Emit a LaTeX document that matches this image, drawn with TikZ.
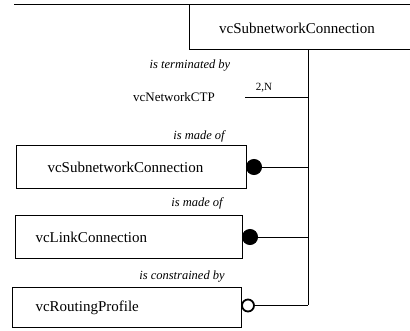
\documentclass[tikz,border=0pt]{standalone}
\usepackage{fontspec}
\setmainfont{Liberation Serif}
\begin{document}
\begin{tikzpicture}[x=1pt,y=-1pt,
  line width=1pt,
  boxtext/.style={font=\fontsize{15}{17}\selectfont},
  relbox/.style={draw, rectangle, boxtext, anchor=north west, align=left, inner ysep=0pt},
  rolelabel/.style={font=\fontsize{12.5}{14}\itshape\selectfont, inner sep=0pt},
  fulldot/.style={circle, fill=black, draw=black, inner sep=0pt, minimum size=15pt},
  opendot/.style={circle, fill=white, draw=black, line width=1.8pt, inner sep=0pt, minimum size=12pt}]
\useasboundingbox (0,0) rectangle (410,330);
% top box (extends beyond the right edge)
\node[boxtext, inner sep=0pt] (topbox) at (297,28) {vcSubnetworkConnection};
\coordinate (tl) at (14,4);
\coordinate (tr) at (410,4);
\coordinate (bl) at (189,4);
\coordinate (blb) at (189,49);
\coordinate (brb) at (410,49);
\draw (tl) -- (tr);
\draw (bl) -- (blb) -- (brb);
% trunk
\coordinate (trunktop) at (308,49);
\coordinate (trunkbot) at (308,305);
\draw (trunktop) -- (trunkbot);
% network CTP
\node[rolelabel] (lterm) at (190,66) {is terminated by};
\node[font=\fontsize{13}{15}\selectfont, inner sep=0pt] (ctp) at (174,97) {vcNetworkCTP};
\coordinate (ctpend) at (245,97);
\draw (ctpend) -- (ctpend -| trunktop);
\node[font=\fontsize{11}{13}\selectfont, inner sep=0pt] (card) at (264,88) {2,N};
% box 1
\node[rolelabel] (lmade1) at (199,136) {is made of};
\node[relbox, minimum width=230pt, minimum height=43pt, text width=168pt, inner xsep=31pt] (b1) at (16,145) {vcSubnetworkConnection};
\node[fulldot] (d1) at ([xshift=7pt]b1.east) {};
\draw (d1) -- (d1 -| trunktop);
% box 2
\node[rolelabel] (lmade2) at (197,203) {is made of};
\node[relbox, minimum width=227pt, minimum height=43pt, text width=187pt, inner xsep=20pt] (b2) at (15,215) {vcLinkConnection};
\node[fulldot] (d2) at ([xshift=7pt]b2.east) {};
\draw (d2) -- (d2 -| trunktop);
% box 3
\node[rolelabel] (lcons) at (182,277) {is constrained by};
\node[relbox, minimum width=229pt, minimum height=40pt, text width=183pt, inner xsep=23pt] (b3) at (12,287) {vcRoutingProfile};
\node[opendot] (d3) at ([xshift=6pt,yshift=2pt]b3.east) {};
\draw (d3) -- (d3 -| trunktop);
\end{tikzpicture}
\end{document}
